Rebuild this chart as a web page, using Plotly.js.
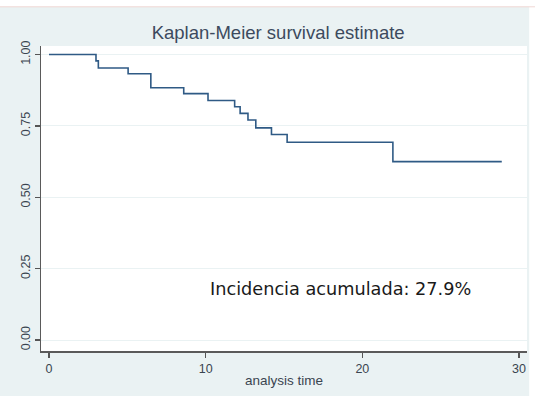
<!DOCTYPE html>
<html>
<head>
<meta charset="utf-8">
<script src="https://cdn.plot.ly/plotly-3.0.1.min.js"></script>
<style>html,body{margin:0;padding:0;background:#fff;}#chart{width:535px;height:396px;}</style>
</head>
<body>
<div id="chart"></div>
<script>
// Kaplan-Meier step data
var times    = [0, 3.0, 3.15, 5.05, 6.5, 8.6, 10.15, 11.85, 12.2, 12.7, 13.2, 14.2, 15.2, 21.95, 28.9];
var survival = [1.0, 0.978, 0.953, 0.933, 0.884, 0.863, 0.839, 0.817, 0.794, 0.771, 0.743, 0.720, 0.693, 0.625, 0.625];
var xTicks = [0, 10, 20, 30];
var yTicks = [0, 0.25, 0.5, 0.75, 1.0];
var yTickText = ["0.00", "0.25", "0.50", "0.75", "1.00"];
var titleText = "Kaplan-Meier survival estimate";
var xTitle = "analysis time";
var noteText = "Incidencia acumulada: 27.9%";

var trace = {
  x: times, y: survival, type: 'scatter', mode: 'lines',
  line: {shape: 'hv', color: '#2f5a85', width: 1.6},
  hoverinfo: 'skip', showlegend: false
};

var axisFont = {family: 'Liberation Sans, Arial, sans-serif', size: 12.5, color: '#3a4550'};

var layout = {
  width: 535, height: 396,
  paper_bgcolor: '#eaf2f3', plot_bgcolor: '#ffffff',
  margin: {l: 41, r: 8, t: 46, b: 45, pad: 0},
  title: {text: titleText, x: 0.488, xref: 'paper', y: 1, yref: 'paper', yanchor: 'bottom', pad: {b: 7},
          font: {family: 'Liberation Sans, Arial, sans-serif', size: 18.5, color: '#3c4a5e'}},
  xaxis: {
    range: [-0.51, 30.51], tickvals: xTicks, ticks: 'outside', ticklen: 5, tickwidth: 1.2, tickcolor: '#555',
    showline: true, linecolor: '#5a5a5a', linewidth: 1.5, showgrid: false, zeroline: false,
    tickfont: axisFont, fixedrange: true,
    title: {text: xTitle, font: {family: 'Liberation Sans, Arial, sans-serif', size: 13.5, color: '#3a4550'}, standoff: 1}
  },
  yaxis: {
    range: [-0.0385, 1.030], tickvals: yTicks, ticktext: yTickText, tickangle: -90,
    ticks: 'outside', ticklen: 5, tickwidth: 1.2, tickcolor: '#555',
    showline: true, linecolor: '#5a5a5a', linewidth: 1.5, showgrid: true, gridcolor: '#eaf2f3', gridwidth: 1,
    zeroline: false, tickfont: axisFont, fixedrange: true
  },
  annotations: [{
    x: 18.6, y: 0.179, xref: 'x', yref: 'y', text: noteText, showarrow: false,
    font: {family: 'DejaVu Sans, Verdana, sans-serif', size: 17.7, color: '#1a1a1a'}
  }],
  shapes: [
    {type: 'rect', xref: 'paper', yref: 'paper', x0: -0.1, x1: 1.02, y0: 1.1285, y1: 1.2, fillcolor: '#ffffff', line: {width: 0}, layer: 'below'},
    {type: 'line', xref: 'paper', yref: 'paper', x0: -0.1, x1: 1.02, y0: 1.1285, y1: 1.1285, line: {color: '#f0d8d4', width: 1}},
    {type: 'rect', xref: 'paper', yref: 'paper', x0: 1.0045, x1: 1.03, y0: -0.2, y1: 1.2, fillcolor: '#ffffff', line: {width: 0}, layer: 'below'}
  ]
};

Plotly.newPlot('chart', [trace], layout, {displayModeBar: false, staticPlot: true});
</script>
</body>
</html>
